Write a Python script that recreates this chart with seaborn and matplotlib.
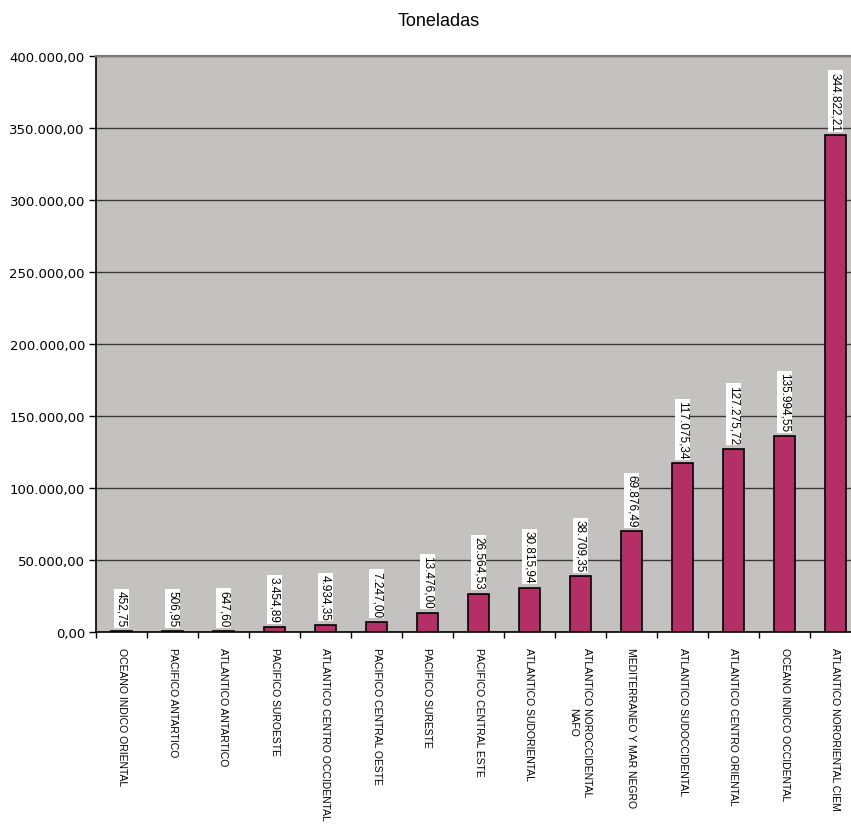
import matplotlib
matplotlib.use("Agg")
import matplotlib.pyplot as plt
import matplotlib.ticker as mticker
import seaborn as sns
import pandas as pd

sns.set_style("white")
plt.rcParams['font.family'] = ['Liberation Sans', 'DejaVu Sans']
plt.rcParams['text.color'] = 'black'
plt.rcParams['xtick.color'] = 'black'
plt.rcParams['ytick.color'] = 'black'

# datos (toneladas por zona de pesca)
zonas = [
    "OCEANO INDICO ORIENTAL",
    "PACIFICO ANTARTICO",
    "ATLANTICO ANTARTICO",
    "PACIFICO SUROESTE",
    "ATLANTICO CENTRO OCCIDENTAL",
    "PACIFICO CENTRAL OESTE",
    "PACIFICO SURESTE",
    "PACIFICO CENTRAL ESTE",
    "ATLANTICO SUDORIENTAL",
    "ATLANTICO NOROCCIDENTAL\nNAFO",
    "MEDITERRANEO Y MAR NEGRO",
    "ATLANTICO SUDOCCIDENTAL",
    "ATLANTICO CENTRO ORIENTAL",
    "OCEANO INDICO OCCIDENTAL",
    "ATLANTICO NORORIENTAL CIEM",
]
toneladas = [452.75, 506.95, 647.60, 3454.89, 4934.35, 7247.00, 13476.00,
             26564.53, 30815.94, 38709.35, 69876.49, 117075.34, 127275.72,
             135994.55, 344822.21]

df = pd.DataFrame({"zona": zonas, "toneladas": toneladas})


def fmt_es(v, pos=None):
    s = f"{v:,.2f}"
    return s.replace(",", "X").replace(".", ",").replace("X", ".")


fig = plt.figure(figsize=(8.51, 8.28), dpi=100)
ax = fig.add_axes([96 / 851, 195 / 828, 765 / 851, 576 / 828])
ax.set_facecolor("#c3c2c1")

sns.barplot(data=df, x="zona", y="toneladas", color="#b32f65", saturation=1,
            width=0.4, edgecolor="black", linewidth=1.2, ax=ax, zorder=3)

ax.set_ylim(0, 400000)
ax.set_xlim(-0.5, len(zonas) - 0.5)
ax.yaxis.set_major_locator(mticker.MultipleLocator(50000))
ax.yaxis.set_major_formatter(mticker.FuncFormatter(fmt_es))
ax.grid(axis="y", color="#3a3a3a", linewidth=1, zorder=1)
ax.set_axisbelow(True)

# etiquetas de valor
for i, v in enumerate(toneladas):
    ax.annotate(fmt_es(v), (i, v), xytext=(0, 3.5), textcoords="offset points",
                rotation=270, ha="center", va="bottom", fontsize=8.5,
                bbox=dict(boxstyle="square,pad=0.12", fc="white", ec="none"),
                zorder=5)

# ejes
ax.set_xlabel("")
ax.set_ylabel("")
ax.set_xticks(range(len(zonas)))
ax.set_xticklabels(zonas, rotation=270, fontsize=7.5, va="top", ha="center",
                   multialignment="center", linespacing=1.5)
ax.set_xticks([i - 0.5 for i in range(len(zonas) + 1)], minor=True)
ax.tick_params(axis="x", which="major", length=0, pad=11)
ax.tick_params(axis="x", which="minor", length=4, width=1, color="black",
               direction="out", bottom=True)
ax.tick_params(axis="y", length=5, width=1, color="black", direction="out",
               left=True, labelsize=9.5, pad=3)
for lbl in ax.get_yticklabels():
    lbl.set_fontfamily("DejaVu Sans")

for side in ["left", "bottom"]:
    ax.spines[side].set_color("black")
    ax.spines[side].set_linewidth(1.2)
ax.spines["top"].set_color("#7a7a7a")
ax.spines["top"].set_linewidth(1.5)
ax.spines["right"].set_visible(False)

fig.text(439 / 851, 1 - 21 / 828, "Toneladas", ha="center", va="center",
         fontsize=13)

fig.savefig("out.png", dpi=100)
